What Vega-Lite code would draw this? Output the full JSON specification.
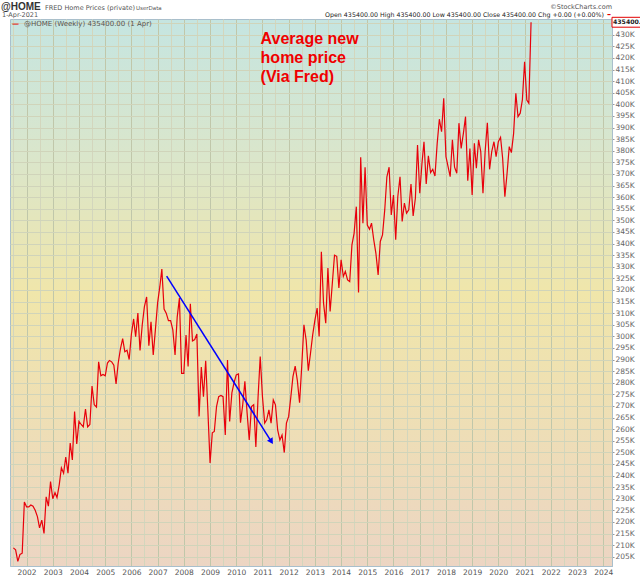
{
  "$schema": "https://vega.github.io/schema/vega-lite/v6.json",
  "width": 602,
  "height": 547,
  "autosize": {"type": "none"},
  "padding": {"left": 10, "top": 19, "right": 28, "bottom": 10},
  "background": "white",
  "config": {
    "font": "DejaVu Sans",
    "view": {
      "fill": {
        "gradient": "linear", "x1": 0, "y1": 0, "x2": 0, "y2": 1,
        "stops": [
          {"offset": 0, "color": "#c5e5e1"},
          {"offset": 0.25, "color": "#dae6cb"},
          {"offset": 0.5, "color": "#f0e6aa"},
          {"offset": 0.75, "color": "#eedeb6"},
          {"offset": 1, "color": "#ecd5c3"}
        ]
      },
      "stroke": "#a9bfcc",
      "strokeWidth": 1
    },
    "axisY": {
      "title": null,
      "tickCount": 47,
      "labelExpr": "datum.value > 432000 ? '' : (datum.value / 1000) + 'K'",
      "labelFontSize": 7.5,
      "labelColor": "#666666",
      "labelPadding": 1,
      "labelFlush": false,
      "labelOverlap": false,
      "tickSize": 2,
      "tickColor": "#999999",
      "domainColor": "#a9bfcc",
      "grid": true,
      "gridColor": "#d0d4ba",
      "gridOpacity": 1
    }
  },
  "layer": [
    {
      "data": {"values": [
        {"d": "2001-07-01", "p": 208800}, {"d": "2001-08-01", "p": 208000}, {"d": "2001-09-01", "p": 203000},
        {"d": "2001-10-01", "p": 206000}, {"d": "2001-11-01", "p": 206500}, {"d": "2001-12-01", "p": 228600},
        {"d": "2002-01-01", "p": 226500}, {"d": "2002-02-01", "p": 226500}, {"d": "2002-03-01", "p": 227300},
        {"d": "2002-04-01", "p": 226800}, {"d": "2002-05-01", "p": 225000}, {"d": "2002-06-01", "p": 222300},
        {"d": "2002-07-01", "p": 217400}, {"d": "2002-08-01", "p": 220800}, {"d": "2002-09-01", "p": 215000},
        {"d": "2002-10-01", "p": 230800}, {"d": "2002-11-01", "p": 226800}, {"d": "2002-12-01", "p": 237400},
        {"d": "2003-01-01", "p": 230000}, {"d": "2003-02-01", "p": 232600}, {"d": "2003-03-01", "p": 230500},
        {"d": "2003-04-01", "p": 236000}, {"d": "2003-05-01", "p": 243300}, {"d": "2003-06-01", "p": 241000},
        {"d": "2003-07-01", "p": 248000}, {"d": "2003-08-01", "p": 241000}, {"d": "2003-09-01", "p": 254000},
        {"d": "2003-10-01", "p": 246700}, {"d": "2003-11-01", "p": 267600}, {"d": "2003-12-01", "p": 253600},
        {"d": "2004-01-01", "p": 263300}, {"d": "2004-02-01", "p": 262000}, {"d": "2004-03-01", "p": 261000},
        {"d": "2004-04-01", "p": 268700}, {"d": "2004-05-01", "p": 261000}, {"d": "2004-06-01", "p": 262000},
        {"d": "2004-07-01", "p": 278600}, {"d": "2004-08-01", "p": 270500}, {"d": "2004-09-01", "p": 269500},
        {"d": "2004-10-01", "p": 289000}, {"d": "2004-11-01", "p": 283000}, {"d": "2004-12-01", "p": 283600},
        {"d": "2005-01-01", "p": 283000}, {"d": "2005-02-01", "p": 288500}, {"d": "2005-03-01", "p": 289600},
        {"d": "2005-04-01", "p": 289000}, {"d": "2005-05-01", "p": 287600}, {"d": "2005-06-01", "p": 279500},
        {"d": "2005-07-01", "p": 288500}, {"d": "2005-08-01", "p": 294600}, {"d": "2005-09-01", "p": 299000},
        {"d": "2005-10-01", "p": 293400}, {"d": "2005-11-01", "p": 294000}, {"d": "2005-12-01", "p": 290000},
        {"d": "2006-01-01", "p": 301000}, {"d": "2006-02-01", "p": 307500}, {"d": "2006-03-01", "p": 299800},
        {"d": "2006-04-01", "p": 310000}, {"d": "2006-05-01", "p": 293900}, {"d": "2006-06-01", "p": 305000},
        {"d": "2006-07-01", "p": 312800}, {"d": "2006-08-01", "p": 317000}, {"d": "2006-09-01", "p": 296000},
        {"d": "2006-10-01", "p": 306300}, {"d": "2006-11-01", "p": 292000}, {"d": "2006-12-01", "p": 302800},
        {"d": "2007-01-01", "p": 314400}, {"d": "2007-02-01", "p": 321400}, {"d": "2007-03-01", "p": 329000},
        {"d": "2007-04-01", "p": 311800}, {"d": "2007-05-01", "p": 310000}, {"d": "2007-06-01", "p": 306800},
        {"d": "2007-07-01", "p": 306800}, {"d": "2007-08-01", "p": 302800}, {"d": "2007-09-01", "p": 292000},
        {"d": "2007-10-01", "p": 308300}, {"d": "2007-11-01", "p": 316500}, {"d": "2007-12-01", "p": 284000},
        {"d": "2008-01-01", "p": 284000}, {"d": "2008-02-01", "p": 300600}, {"d": "2008-03-01", "p": 287000},
        {"d": "2008-04-01", "p": 314000}, {"d": "2008-05-01", "p": 298000}, {"d": "2008-06-01", "p": 298600},
        {"d": "2008-07-01", "p": 301000}, {"d": "2008-08-01", "p": 265500}, {"d": "2008-09-01", "p": 286800},
        {"d": "2008-10-01", "p": 274000}, {"d": "2008-11-01", "p": 289500}, {"d": "2008-12-01", "p": 268300},
        {"d": "2009-01-01", "p": 245400}, {"d": "2009-02-01", "p": 258400}, {"d": "2009-03-01", "p": 259000},
        {"d": "2009-04-01", "p": 269700}, {"d": "2009-05-01", "p": 274000}, {"d": "2009-06-01", "p": 274500},
        {"d": "2009-07-01", "p": 274000}, {"d": "2009-08-01", "p": 257500}, {"d": "2009-09-01", "p": 289800},
        {"d": "2009-10-01", "p": 263300}, {"d": "2009-11-01", "p": 275600}, {"d": "2009-12-01", "p": 280000},
        {"d": "2010-01-01", "p": 283400}, {"d": "2010-02-01", "p": 283800}, {"d": "2010-03-01", "p": 262800},
        {"d": "2010-04-01", "p": 270500}, {"d": "2010-05-01", "p": 280600}, {"d": "2010-06-01", "p": 267000},
        {"d": "2010-07-01", "p": 255300}, {"d": "2010-08-01", "p": 269700}, {"d": "2010-09-01", "p": 270500},
        {"d": "2010-10-01", "p": 252300}, {"d": "2010-11-01", "p": 274000}, {"d": "2010-12-01", "p": 291300},
        {"d": "2011-01-01", "p": 274000}, {"d": "2011-02-01", "p": 262600}, {"d": "2011-03-01", "p": 264000},
        {"d": "2011-04-01", "p": 268300}, {"d": "2011-05-01", "p": 262600}, {"d": "2011-06-01", "p": 272600},
        {"d": "2011-07-01", "p": 270500}, {"d": "2011-08-01", "p": 259700}, {"d": "2011-09-01", "p": 255300},
        {"d": "2011-10-01", "p": 257500}, {"d": "2011-11-01", "p": 249900}, {"d": "2011-12-01", "p": 262600},
        {"d": "2012-01-01", "p": 265500}, {"d": "2012-02-01", "p": 274000}, {"d": "2012-03-01", "p": 282600},
        {"d": "2012-04-01", "p": 287200}, {"d": "2012-05-01", "p": 281000}, {"d": "2012-06-01", "p": 271400},
        {"d": "2012-07-01", "p": 286900}, {"d": "2012-08-01", "p": 305000}, {"d": "2012-09-01", "p": 298400},
        {"d": "2012-10-01", "p": 285200}, {"d": "2012-11-01", "p": 292800}, {"d": "2012-12-01", "p": 300600},
        {"d": "2013-01-01", "p": 307000}, {"d": "2013-02-01", "p": 312200}, {"d": "2013-03-01", "p": 299900},
        {"d": "2013-04-01", "p": 336500}, {"d": "2013-05-01", "p": 314400}, {"d": "2013-06-01", "p": 305700},
        {"d": "2013-07-01", "p": 329400}, {"d": "2013-08-01", "p": 310700}, {"d": "2013-09-01", "p": 323000},
        {"d": "2013-10-01", "p": 335000}, {"d": "2013-11-01", "p": 334500}, {"d": "2013-12-01", "p": 320900},
        {"d": "2014-01-01", "p": 333000}, {"d": "2014-02-01", "p": 325800}, {"d": "2014-03-01", "p": 328000},
        {"d": "2014-04-01", "p": 324300}, {"d": "2014-05-01", "p": 323600}, {"d": "2014-06-01", "p": 339400},
        {"d": "2014-07-01", "p": 344400}, {"d": "2014-08-01", "p": 355900}, {"d": "2014-09-01", "p": 318900},
        {"d": "2014-10-01", "p": 377200}, {"d": "2014-11-01", "p": 348800}, {"d": "2014-12-01", "p": 372900},
        {"d": "2015-01-01", "p": 348000}, {"d": "2015-02-01", "p": 346200}, {"d": "2015-03-01", "p": 348800},
        {"d": "2015-04-01", "p": 341600}, {"d": "2015-05-01", "p": 335800}, {"d": "2015-06-01", "p": 326500},
        {"d": "2015-07-01", "p": 340900}, {"d": "2015-08-01", "p": 343700}, {"d": "2015-09-01", "p": 354500},
        {"d": "2015-10-01", "p": 368800}, {"d": "2015-11-01", "p": 372900}, {"d": "2015-12-01", "p": 352300},
        {"d": "2016-01-01", "p": 360900}, {"d": "2016-02-01", "p": 341600}, {"d": "2016-03-01", "p": 360200},
        {"d": "2016-04-01", "p": 368800}, {"d": "2016-05-01", "p": 349500}, {"d": "2016-06-01", "p": 357400},
        {"d": "2016-07-01", "p": 353100}, {"d": "2016-08-01", "p": 354500}, {"d": "2016-09-01", "p": 365700},
        {"d": "2016-10-01", "p": 351900}, {"d": "2016-11-01", "p": 359500}, {"d": "2016-12-01", "p": 382500},
        {"d": "2017-01-01", "p": 361700}, {"d": "2017-02-01", "p": 374600}, {"d": "2017-03-01", "p": 383900},
        {"d": "2017-04-01", "p": 365700}, {"d": "2017-05-01", "p": 377800}, {"d": "2017-06-01", "p": 370600},
        {"d": "2017-07-01", "p": 372000}, {"d": "2017-08-01", "p": 369100}, {"d": "2017-09-01", "p": 383200},
        {"d": "2017-10-01", "p": 393600}, {"d": "2017-11-01", "p": 388200}, {"d": "2017-12-01", "p": 402600},
        {"d": "2018-01-01", "p": 377500}, {"d": "2018-02-01", "p": 372900}, {"d": "2018-03-01", "p": 368800},
        {"d": "2018-04-01", "p": 384700}, {"d": "2018-05-01", "p": 372900}, {"d": "2018-06-01", "p": 370300},
        {"d": "2018-07-01", "p": 391900}, {"d": "2018-08-01", "p": 381000}, {"d": "2018-09-01", "p": 387500},
        {"d": "2018-10-01", "p": 394700}, {"d": "2018-11-01", "p": 367100}, {"d": "2018-12-01", "p": 381000},
        {"d": "2019-01-01", "p": 360900}, {"d": "2019-02-01", "p": 383200}, {"d": "2019-03-01", "p": 372500},
        {"d": "2019-04-01", "p": 384700}, {"d": "2019-05-01", "p": 379600}, {"d": "2019-06-01", "p": 361700},
        {"d": "2019-07-01", "p": 379600}, {"d": "2019-08-01", "p": 392100}, {"d": "2019-09-01", "p": 372000},
        {"d": "2019-10-01", "p": 379600}, {"d": "2019-11-01", "p": 383900}, {"d": "2019-12-01", "p": 377500},
        {"d": "2020-01-01", "p": 383900}, {"d": "2020-02-01", "p": 385800}, {"d": "2020-03-01", "p": 376800},
        {"d": "2020-04-01", "p": 360200}, {"d": "2020-05-01", "p": 370000}, {"d": "2020-06-01", "p": 381800},
        {"d": "2020-07-01", "p": 379200}, {"d": "2020-08-01", "p": 387500}, {"d": "2020-09-01", "p": 404800},
        {"d": "2020-10-01", "p": 394700}, {"d": "2020-11-01", "p": 396200}, {"d": "2020-12-01", "p": 401900},
        {"d": "2021-01-01", "p": 418400}, {"d": "2021-02-01", "p": 401900}, {"d": "2021-03-01", "p": 400500},
        {"d": "2021-04-01", "p": 435400}
      ]},
      "mark": {"type": "line", "color": "#e8000b", "strokeWidth": 1.2},
      "encoding": {
        "x": {
          "field": "d", "type": "temporal",
          "scale": {"type": "utc", "domain": [
            {"year": 2001, "month": 5, "date": 15, "utc": true},
            {"year": 2024, "month": 5, "date": 3, "utc": true}
          ]},
          "axis": {
            "title": null,
            "tickCount": {"interval": "month", "step": 6},
            "labelExpr": "utcmonth(datum.value) == 0 ? utcFormat(datum.value, '%Y') : ''",
            "labelFontSize": 7.5,
            "labelColor": "#555555",
            "labelPadding": 2,
            "labelFlush": false,
            "labelOverlap": false,
            "ticks": false,
            "domainColor": "#a9bfcc",
            "grid": true,
            "gridColor": {"condition": {"test": "utcmonth(datum.value) == 0", "value": "#c0c7aa"}, "value": "#d3d6bd"},
            "gridOpacity": 1
          }
        },
        "y": {
          "field": "p", "type": "quantitative",
          "scale": {"domain": [201000, 436800], "zero": false, "nice": false},
          "axis": {"orient": "right"}
        }
      }
    },
    {
      "data": {"values": [
        {"d": "2007-05-07", "p": 326000},
        {"d": "2011-05-05", "p": 254650}
      ]},
      "mark": {"type": "line", "color": "#0000ff", "strokeWidth": 1.5},
      "encoding": {
        "x": {"field": "d", "type": "temporal"},
        "y": {"field": "p", "type": "quantitative", "axis": {"orient": "right"}}
      }
    },
    {
      "data": {"values": [{"d": "2011-05-05", "p": 254650}]},
      "mark": {"type": "point", "shape": "triangle-up", "angle": 148, "filled": true, "color": "#0000ff", "size": 45, "opacity": 1},
      "encoding": {
        "x": {"field": "d", "type": "temporal"},
        "y": {"field": "p", "type": "quantitative", "axis": {"orient": "right"}}
      }
    },
    {
      "data": {"values": [{}]},
      "mark": {"type": "text", "text": ["Average new", "home price", "(Via Fred)"], "font": "Liberation Sans", "fontSize": 16, "fontWeight": "bold", "color": "#f00000", "align": "left", "baseline": "alphabetic", "lineHeight": 19},
      "encoding": {
        "x": {"datum": {"year": 2010, "month": 12, "date": 6, "utc": true}, "type": "temporal"},
        "y": {"datum": 426000, "type": "quantitative", "axis": {"orient": "right"}}
      }
    },
    {
      "data": {"values": [{}]},
      "mark": {"type": "text", "text": "—", "fontSize": 7, "color": "#e30000", "fontWeight": "bold", "align": "left", "baseline": "middle", "dx": 2},
      "encoding": {
        "x": {"datum": {"year": 2001, "month": 5, "date": 15, "utc": true}, "type": "temporal"},
        "y": {"datum": 434800, "type": "quantitative", "axis": {"orient": "right"}}
      }
    },
    {
      "data": {"values": [{}]},
      "mark": {"type": "text", "text": "@HOME (Weekly) 435400.00 (1 Apr)", "fontSize": 7, "color": "#555555", "align": "left", "baseline": "middle", "dx": 14},
      "encoding": {
        "x": {"datum": {"year": 2001, "month": 5, "date": 15, "utc": true}, "type": "temporal"},
        "y": {"datum": 434800, "type": "quantitative", "axis": {"orient": "right"}}
      }
    },
    {
      "data": {"values": [{}]},
      "mark": {"type": "text", "text": "@HOME", "font": "Liberation Sans", "fontSize": 10, "fontWeight": "bold", "color": "#333333", "align": "left", "baseline": "alphabetic", "dx": -9},
      "encoding": {
        "x": {"datum": {"year": 2001, "month": 5, "date": 15, "utc": true}, "type": "temporal"},
        "y": {"datum": 440800, "type": "quantitative", "axis": {"orient": "right"}}
      }
    },
    {
      "data": {"values": [{}]},
      "mark": {"type": "text", "text": "FRED Home Prices (private)", "fontSize": 6.5, "color": "#555555", "align": "left", "baseline": "alphabetic", "dx": 35},
      "encoding": {
        "x": {"datum": {"year": 2001, "month": 5, "date": 15, "utc": true}, "type": "temporal"},
        "y": {"datum": 440800, "type": "quantitative", "axis": {"orient": "right"}}
      }
    },
    {
      "data": {"values": [{}]},
      "mark": {"type": "text", "text": "UserData", "fontSize": 5.5, "color": "#555555", "align": "left", "baseline": "alphabetic", "dx": 126},
      "encoding": {
        "x": {"datum": {"year": 2001, "month": 5, "date": 15, "utc": true}, "type": "temporal"},
        "y": {"datum": 440800, "type": "quantitative", "axis": {"orient": "right"}}
      }
    },
    {
      "data": {"values": [{}]},
      "mark": {"type": "text", "text": "1-Apr-2021", "fontSize": 6.5, "color": "#555555", "align": "left", "baseline": "alphabetic", "dx": -8},
      "encoding": {
        "x": {"datum": {"year": 2001, "month": 5, "date": 15, "utc": true}, "type": "temporal"},
        "y": {"datum": 437600, "type": "quantitative", "axis": {"orient": "right"}}
      }
    },
    {
      "data": {"values": [{}]},
      "mark": {"type": "text", "text": "©StockCharts.com", "fontSize": 6.5, "color": "#555555", "align": "right", "baseline": "alphabetic", "dx": 0},
      "encoding": {
        "x": {"datum": {"year": 2024, "month": 5, "date": 3, "utc": true}, "type": "temporal"},
        "y": {"datum": 441200, "type": "quantitative", "axis": {"orient": "right"}}
      }
    },
    {
      "data": {"values": [{}]},
      "mark": {"type": "text", "text": "Open 435400.00 High 435400.00 Low 435400.00 Close 435400.00 Chg +0.00 (+0.00%)", "fontSize": 6.3, "color": "#222222", "align": "right", "baseline": "alphabetic", "dx": -8},
      "encoding": {
        "x": {"datum": {"year": 2024, "month": 5, "date": 3, "utc": true}, "type": "temporal"},
        "y": {"datum": 437600, "type": "quantitative", "axis": {"orient": "right"}}
      }
    },
    {
      "data": {"values": [{}]},
      "mark": {"type": "text", "text": "–", "fontSize": 8, "fontWeight": "bold", "color": "#e30000", "align": "right", "baseline": "alphabetic", "dx": -1},
      "encoding": {
        "x": {"datum": {"year": 2024, "month": 5, "date": 3, "utc": true}, "type": "temporal"},
        "y": {"datum": 437600, "type": "quantitative", "axis": {"orient": "right"}}
      }
    },
    {
      "data": {"values": [{}]},
      "mark": {"type": "point", "shape": "M0,-0.33H2.1V0.33H0Z", "size": 900, "filled": true, "fill": "#ffffff", "stroke": "#e30000", "strokeWidth": 1, "opacity": 1},
      "encoding": {
        "x": {"datum": {"year": 2024, "month": 5, "date": 3, "utc": true}, "type": "temporal"},
        "y": {"datum": 435400, "type": "quantitative", "axis": {"orient": "right"}}
      }
    },
    {
      "data": {"values": [{}]},
      "mark": {"type": "text", "text": "435400.0", "fontSize": 6.2, "fontWeight": "bold", "color": "#222222", "align": "left", "baseline": "middle", "dx": 1},
      "encoding": {
        "x": {"datum": {"year": 2024, "month": 5, "date": 3, "utc": true}, "type": "temporal"},
        "y": {"datum": 435400, "type": "quantitative", "axis": {"orient": "right"}}
      }
    }
  ]
}
